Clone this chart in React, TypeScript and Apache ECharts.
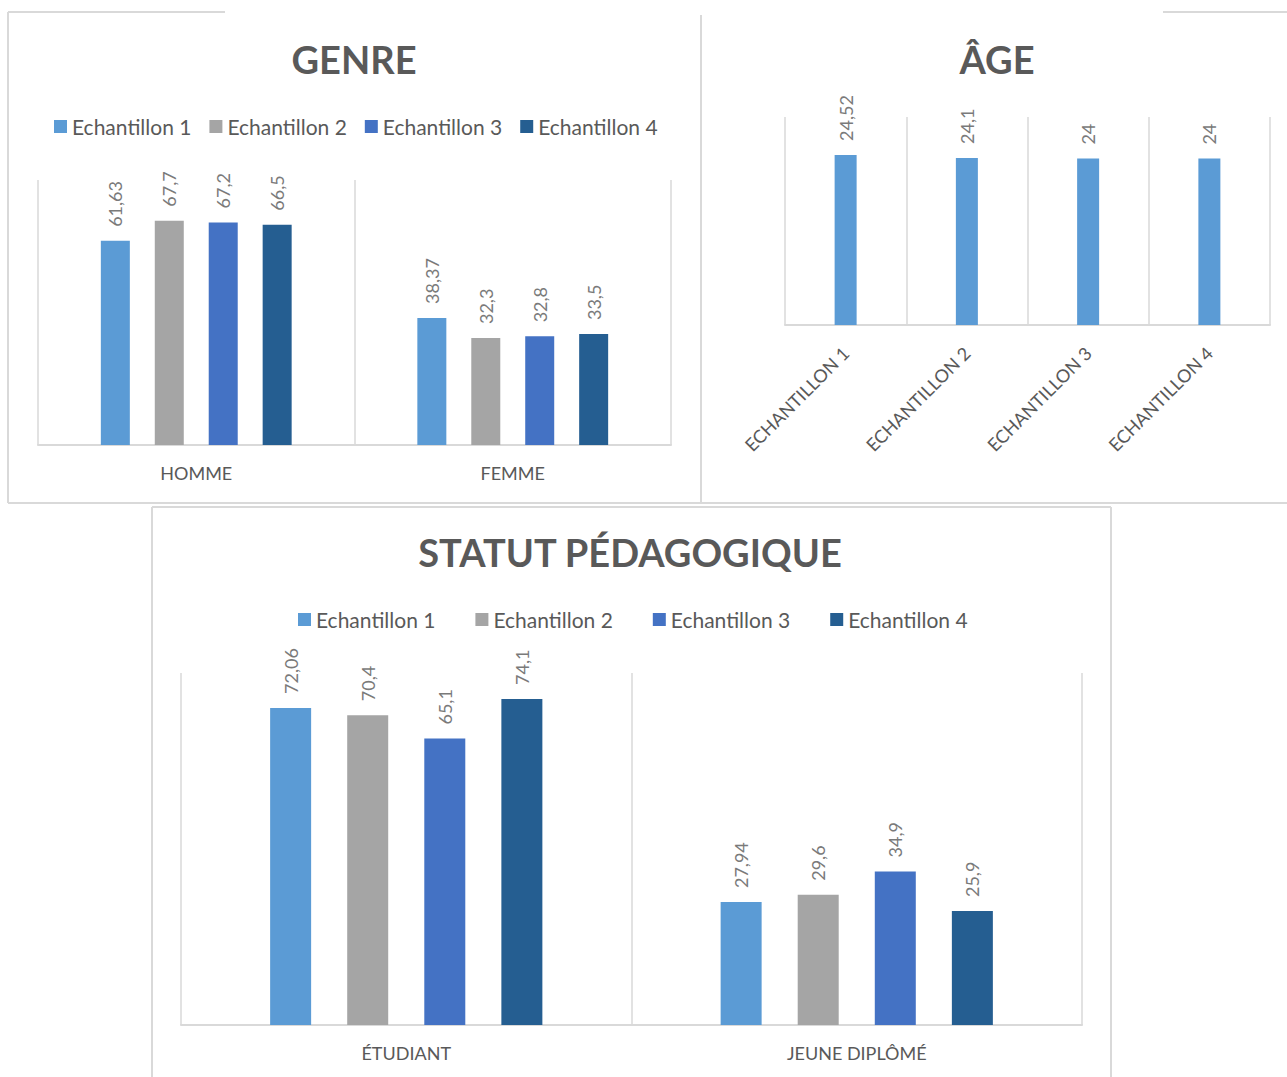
import React, { useEffect, useRef } from "react";
import * as echarts from "echarts";

const seriesNames = ["Echantillon 1", "Echantillon 2", "Echantillon 3", "Echantillon 4"];
const seriesColors = ["#5b9bd5", "#a5a5a5", "#4472c4", "#255e91"];

const genreCategories = ["HOMME", "FEMME"];
const genreEch1 = [61.63, 38.37];
const genreEch2 = [67.7, 32.3];
const genreEch3 = [67.2, 32.8];
const genreEch4 = [66.5, 33.5];

const ageCategories = ["ECHANTILLON 1", "ECHANTILLON 2", "ECHANTILLON 3", "ECHANTILLON 4"];
const ageValues = [24.52, 24.1, 24, 24];

const statutCategories = ["ÉTUDIANT", "JEUNE DIPLÔMÉ"];
const statutEch1 = [72.06, 27.94];
const statutEch2 = [70.4, 29.6];
const statutEch3 = [65.1, 34.9];
const statutEch4 = [74.1, 25.9];

const FONT = "Lato, 'Open Sans', sans-serif";
const TEXT = "#595959";
const LABEL = "#7a7a7a";
const BORDER = "#d9d9d9";

const fmt = (p: any) => String(p.value).replace(".", ",");

const barLabel = {
  show: true,
  position: "top",
  rotate: 90,
  align: "left",
  verticalAlign: "middle",
  distance: 14,
  color: LABEL,
  fontSize: 18,
  fontFamily: FONT,
  formatter: fmt,
};

function catAxis(gridIndex: number, data: string[], extra: any = {}) {
  return {
    type: "category",
    gridIndex,
    data,
    axisLine: { show: true, lineStyle: { color: BORDER, width: 2 } },
    axisTick: { show: false },
    splitLine: { show: true, lineStyle: { color: BORDER, width: 1.5 } },
    axisLabel: {
      color: TEXT,
      fontSize: 18,
      fontFamily: FONT,
      margin: 19,
      interval: 0,
      ...extra,
    },
  };
}

function valAxis(gridIndex: number, max: number) {
  return {
    type: "value",
    gridIndex,
    min: 0,
    max,
    show: false,
    splitLine: { show: false },
  };
}

function line(x1: number, y1: number, x2: number, y2: number) {
  return {
    type: "line",
    shape: { x1, y1, x2, y2 },
    style: { stroke: BORDER, lineWidth: 2 },
    silent: true,
  };
}

export default function App() {
  const ref = useRef<HTMLDivElement>(null);
  useEffect(() => {
    if (!ref.current) return;
    const chart = echarts.init(ref.current, undefined, { renderer: "svg" });
    const genreData = [genreEch1, genreEch2, genreEch3, genreEch4];
    const statutData = [statutEch1, statutEch2, statutEch3, statutEch4];
    const titleStyle = {
      color: TEXT,
      fontSize: 38,
      fontWeight: "bold",
      fontFamily: FONT,
    };
    const legendCommon = {
      icon: "rect",
      itemWidth: 13,
      itemHeight: 13,
      padding: 0,
      selectedMode: false,
      textStyle: { color: TEXT, fontSize: 21, fontFamily: FONT },
    };
    chart.setOption({
      animation: false,
      backgroundColor: "#ffffff",
      title: [
        { text: "GENRE", left: 354, top: 40, padding: 0, textAlign: "center", textStyle: titleStyle },
        { text: "ÂGE", left: 997, top: 40, padding: 0, textAlign: "center", textStyle: titleStyle },
        { text: "STATUT PÉDAGOGIQUE", left: 630, top: 533, padding: 0, textAlign: "center", textStyle: titleStyle },
      ],
      legend: [
        { ...legendCommon, data: seriesNames, left: 54, top: 116, itemGap: 18 },
        { ...legendCommon, data: seriesNames, left: 298, top: 609, itemGap: 40 },
      ],
      grid: [
        { left: 38, top: 180, width: 633, height: 265 },
        { left: 785, top: 117, width: 485, height: 208 },
        { left: 181, top: 673, width: 901, height: 352 },
      ],
      xAxis: [
        catAxis(0, genreCategories),
        catAxis(1, ageCategories, { rotate: 45, margin: 25 }),
        catAxis(2, statutCategories),
      ],
      yAxis: [valAxis(0, 80), valAxis(1, 30), valAxis(2, 80)],
      series: [
        ...seriesNames.map((name, i) => ({
          type: "bar",
          name,
          xAxisIndex: 0,
          yAxisIndex: 0,
          data: genreData[i],
          barWidth: 29,
          barGap: "86%",
          itemStyle: { color: seriesColors[i] },
          label: barLabel,
        })),
        {
          type: "bar",
          name: "Âge",
          xAxisIndex: 1,
          yAxisIndex: 1,
          data: ageValues,
          barWidth: 22,
          itemStyle: { color: seriesColors[0] },
          label: barLabel,
        },
        ...seriesNames.map((name, i) => ({
          type: "bar",
          name,
          xAxisIndex: 2,
          yAxisIndex: 2,
          data: statutData[i],
          barWidth: 41,
          barGap: "88%",
          itemStyle: { color: seriesColors[i] },
          label: barLabel,
        })),
      ],
      graphic: [
        line(8, 12, 225, 12),
        line(8, 12, 8, 503),
        line(8, 503, 1287, 503),
        line(701, 15, 701, 503),
        line(1163, 12, 1287, 12),
        line(152, 507, 1111, 507),
        line(152, 507, 152, 1077),
        line(1111, 507, 1111, 1077),
      ],
    });
    return () => chart.dispose();
  }, []);
  return (
    <div
      ref={ref}
      style={{ position: "absolute", left: 0, top: 0, width: 1287, height: 1077, background: "#fff" }}
    />
  );
}
